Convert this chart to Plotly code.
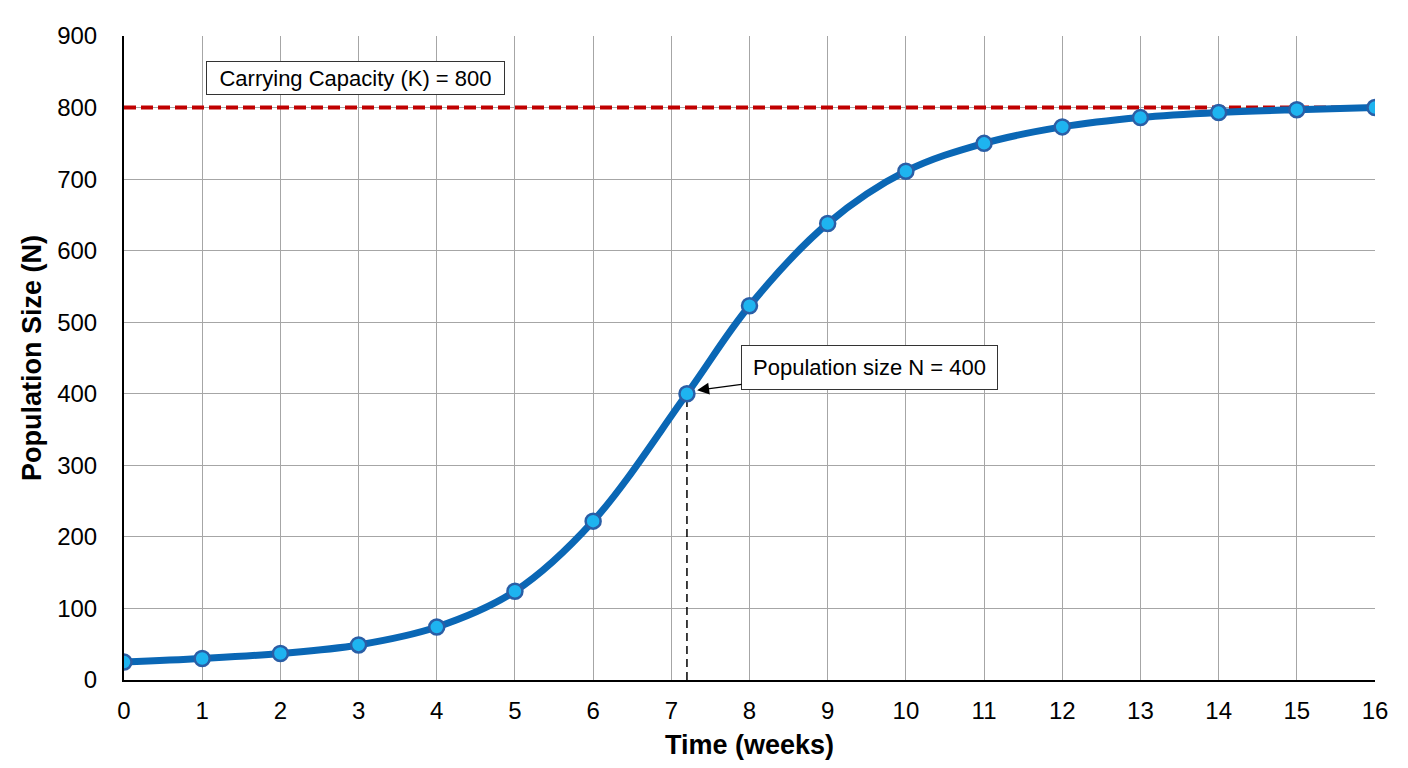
import plotly.graph_objects as go

# logistic growth data
weeks = [0, 1, 2, 3, 4, 5, 6, 7.2, 8, 9, 10, 11, 12, 13, 14, 15, 16]
population = [25, 30, 37, 49, 74, 124, 222, 400, 523, 638, 711, 750, 773, 786, 793, 797, 800]

carrying_capacity = 800
half_k_week = 7.2
half_k_pop = 400

x_ticks = list(range(0, 17))
y_ticks = list(range(0, 901, 100))

font_name = "Liberation Sans, Arial, sans-serif"

fig = go.Figure()

# carrying capacity line
fig.add_trace(
    go.Scatter(
        x=[weeks[0], weeks[-1]],
        y=[carrying_capacity, carrying_capacity],
        mode="lines",
        line=dict(color="#c00000", width=4, dash="12px,5px"),
        hoverinfo="skip",
        showlegend=False,
    )
)

# dashed drop line at N = 400
fig.add_trace(
    go.Scatter(
        x=[half_k_week, half_k_week],
        y=[0, half_k_pop],
        mode="lines",
        line=dict(color="black", width=1.5, dash="8px,5px"),
        hoverinfo="skip",
        showlegend=False,
    )
)

fig.add_trace(
    go.Scatter(
        x=weeks,
        y=population,
        mode="lines+markers",
        line=dict(color="#0a67b5", width=7, shape="spline", smoothing=1),
        marker=dict(
            size=15, color="#1eb4f0", line=dict(color="#2a5ea6", width=2.5)
        ),
        showlegend=False,
    )
)

fig.add_annotation(
    x=1.05,
    y=841,
    xanchor="left",
    text="Carrying Capacity (K) = 800",
    showarrow=False,
    font=dict(size=22, color="black", family=font_name),
    bgcolor="white",
    bordercolor="#333333",
    borderwidth=1,
    borderpad=3,
    width=291,
    height=26,
)

fig.add_annotation(
    x=7.33,
    y=405,
    ax=9.535,
    ay=437,
    axref="x",
    ayref="y",
    text="Population size N = 400",
    showarrow=True,
    arrowhead=2,
    arrowsize=2,
    arrowwidth=1.2,
    arrowcolor="black",
    font=dict(size=22, color="black", family=font_name),
    bgcolor="white",
    bordercolor="#333333",
    borderwidth=1,
    borderpad=4,
    width=247,
    height=35,
)

fig.update_xaxes(
    range=[0, 16],
    tickvals=x_ticks,
    showgrid=True,
    gridcolor="#a6a6a6",
    gridwidth=1,
    showline=True,
    linecolor="black",
    linewidth=2,
    zeroline=False,
    ticks="",
    automargin=False,
    ticklabelstandoff=8,
    tickfont=dict(size=24, color="black", family=font_name),
    title=dict(
        text="<b>Time (weeks)</b>",
        font=dict(size=27, color="black", family=font_name),
        standoff=14,
    ),
)
fig.update_yaxes(
    range=[0, 900],
    tickvals=y_ticks,
    showgrid=True,
    gridcolor="#a6a6a6",
    gridwidth=1,
    showline=True,
    linecolor="black",
    linewidth=2,
    zeroline=False,
    ticks="",
    automargin=False,
    ticklabelstandoff=20,
    tickfont=dict(size=24, color="black", family=font_name),
    title=dict(
        text="<b>Population Size (N)</b>",
        font=dict(size=27, color="black", family=font_name),
        standoff=8,
    ),
)

fig.update_layout(
    width=1392,
    height=752,
    margin=dict(l=116, r=25, t=28, b=80),
    plot_bgcolor="white",
    paper_bgcolor="white",
    font=dict(family=font_name),
)

fig.write_html("out.html")
